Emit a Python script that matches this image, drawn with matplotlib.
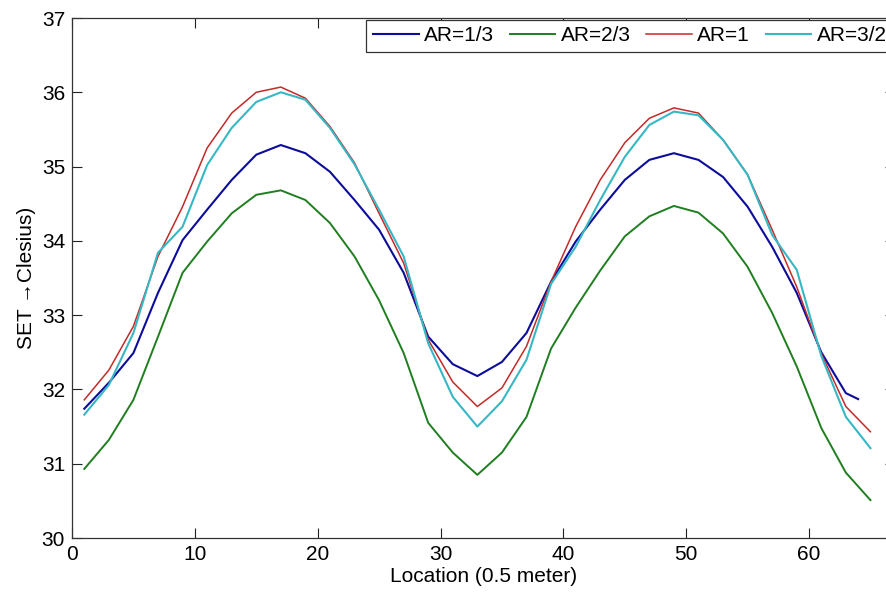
import matplotlib
matplotlib.use("Agg")
import matplotlib.pyplot as plt

plt.rcParams['font.family'] = ['Liberation Sans', 'DejaVu Sans']

# Data
x_long = [1, 3, 5, 7, 9, 11, 13, 15, 17, 19, 21, 23, 25, 27, 29, 31, 33,
          35, 37, 39, 41, 43, 45, 47, 49, 51, 53, 55, 57, 59, 61, 63, 65]
x_blue = [1, 3, 5, 7, 9, 11, 13, 15, 17, 19, 21, 23, 25, 27, 29, 31, 33,
          35, 37, 39, 41, 43, 45, 47, 49, 51, 53, 55, 57, 59, 61, 63, 64]

ar_1_3 = [31.74, 32.09, 32.49, 33.30, 34.01, 34.42, 34.82, 35.16, 35.29, 35.18,
          34.93, 34.55, 34.15, 33.57, 32.71, 32.34, 32.18, 32.37, 32.76, 33.45,
          33.99, 34.42, 34.82, 35.09, 35.18, 35.09, 34.86, 34.46, 33.92, 33.30,
          32.50, 31.95, 31.87]
ar_2_3 = [30.93, 31.32, 31.86, 32.71, 33.57, 33.99, 34.37, 34.62, 34.68, 34.55,
          34.24, 33.79, 33.20, 32.49, 31.55, 31.15, 30.85, 31.15, 31.63, 32.55,
          33.10, 33.60, 34.06, 34.33, 34.47, 34.38, 34.10, 33.65, 33.03, 32.31,
          31.48, 30.88, 30.51]
ar_1 = [31.86, 32.26, 32.85, 33.79, 34.46, 35.25, 35.72, 36.00, 36.07, 35.92,
        35.54, 35.05, 34.37, 33.70, 32.67, 32.10, 31.77, 32.02, 32.58, 33.45,
        34.19, 34.82, 35.32, 35.65, 35.79, 35.72, 35.36, 34.89, 34.15, 33.38,
        32.48, 31.77, 31.43]
ar_3_2 = [31.66, 32.06, 32.76, 33.84, 34.19, 35.02, 35.52, 35.87, 36.00, 35.90,
          35.52, 35.03, 34.42, 33.79, 32.62, 31.90, 31.50, 31.84, 32.40, 33.42,
          33.92, 34.55, 35.13, 35.56, 35.74, 35.69, 35.36, 34.89, 34.08, 33.61,
          32.45, 31.63, 31.21]

labels = ['AR=1/3', 'AR=2/3', 'AR=1', 'AR=3/2']
colors = ['#0c0c9c', '#1f7e1f', '#c42a2a', '#36b8c4']
widths = [1.5, 1.4, 1.1, 1.5]

xticks = [0, 10, 20, 30, 40, 50, 60]
yticks = [30, 31, 32, 33, 34, 35, 36, 37]

fig = plt.figure(figsize=(8.87, 5.92), dpi=100)
ax = fig.add_axes([72 / 887, 54 / 592, (895 - 72) / 887, (538 - 18) / 592])

series = [(x_blue, ar_1_3), (x_long, ar_2_3), (x_long, ar_1), (x_long, ar_3_2)]
for (xs, ys), lab, c, lw in zip(series, labels, colors, widths):
    ax.plot(xs, ys, color=c, lw=lw, label=lab)

ax.set_xlim(0, 67)
ax.set_ylim(30, 37)
ax.set_xticks(xticks)
ax.set_yticks(yticks)
ax.tick_params(direction='in', length=7, width=0.8, top=True, right=True,
               labelsize=15, pad=5, colors='#222222', labelcolor='black')
for s in ax.spines.values():
    s.set_color('#333333')
    s.set_linewidth(0.9)

ax.set_xlabel('Location (0.5 meter)', fontsize=15, labelpad=2)
ax.set_ylabel('SET \u2192Clesius)', fontsize=15, labelpad=4)

leg = ax.legend(loc='upper right', bbox_to_anchor=(1.0, 1.0), borderaxespad=0.1,
                ncol=4, fontsize=15, handlelength=2.2, handletextpad=0.25,
                columnspacing=0.75, borderpad=0.3, fancybox=False,
                framealpha=1, edgecolor='#333333')
leg.get_frame().set_linewidth(0.9)

fig.savefig('out.png', dpi=100)
